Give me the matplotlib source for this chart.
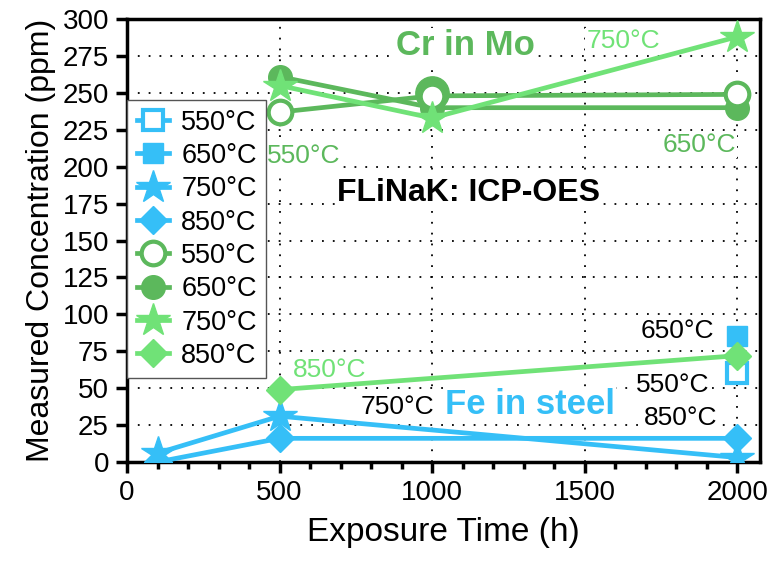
import numpy as np
import matplotlib.pyplot as plt
from matplotlib.ticker import MultipleLocator

plt.rcParams['font.family'] = ['Liberation Sans', 'DejaVu Sans']

# Fe in steel (blue)
fe550_x = [2000]
fe550_y = [60]
fe650_x = [2000]
fe650_y = [85]
fe750_x = [100, 500, 2000]
fe750_y = [6, 31, 3]
fe850_x = [100, 500, 2000]
fe850_y = [0, 16, 16]

# Cr in Mo (green)
cr550_x = [500, 1000, 2000]
cr550_y = [237, 248, 249]
cr650_x = [500, 1000, 2000]
cr650_y = [261, 240, 240]
cr750_x = [500, 1000, 2000]
cr750_y = [255, 233, 288]
cr850_x = [500, 2000]
cr850_y = [49, 72]
# large filled point at 1000 h
crbig_x = [1000]
crbig_y = [250]

temps = ['550°C', '650°C', '750°C', '850°C']

blue = '#35BFF7'
dgreen = '#5CB85C'
lgreen = '#70E277'

fig = plt.figure(figsize=(7.7, 5.62), dpi=100)
ax = fig.add_axes([0.165, 0.178, 0.822, 0.788])

lw = 3.4
ax.plot(fe550_x, fe550_y, color=blue, lw=lw, marker='s', ms=15, mfc='white', mew=3, label=temps[0], zorder=5)
ax.plot(fe650_x, fe650_y, color=blue, lw=lw, marker='s', ms=15, label=temps[1], zorder=5)
ax.plot(fe750_x, fe750_y, color=blue, lw=lw, marker='*', ms=25, label=temps[2], zorder=5)
ax.plot(fe850_x, fe850_y, color=blue, lw=lw, marker='D', ms=14, label=temps[3], zorder=5)

ax.plot(crbig_x, crbig_y, color=dgreen, lw=0, marker='o', ms=24, zorder=4)
ax.plot(cr550_x, cr550_y, color=dgreen, lw=lw, marker='o', ms=17, mfc='white', mew=3, label=temps[0], zorder=5)
ax.plot(cr650_x, cr650_y, color=dgreen, lw=lw, marker='o', ms=17, label=temps[1], zorder=4)
ax.plot(cr750_x, cr750_y, color=lgreen, lw=lw, marker='*', ms=25, label=temps[2], zorder=6)
ax.plot(cr850_x, cr850_y, color=lgreen, lw=lw, marker='D', ms=14, label=temps[3], zorder=5)

ax.set_xlim(0, 2075)
ax.set_ylim(0, 300)
ax.xaxis.set_major_locator(MultipleLocator(500))
ax.xaxis.set_minor_locator(MultipleLocator(100))
ax.yaxis.set_major_locator(MultipleLocator(25))
ax.grid(True, which='major', color='black', linestyle=(0, (1, 5)), lw=1.3)
ax.set_axisbelow(True)

for s in ax.spines.values():
    s.set_linewidth(2.5)
ax.tick_params(which='major', direction='out', length=8, width=2.5, labelsize=20, pad=5)
ax.tick_params(which='minor', direction='out', length=5, width=2.5)

ax.set_xlabel('Exposure Time (h)', fontsize=24, labelpad=8)
ax.set_ylabel('Measured Concentration (ppm)', fontsize=23, labelpad=5)

wb = dict(facecolor='white', edgecolor='none', pad=1)
ax.text(1110, 282, 'Cr in Mo', color=dgreen, fontsize=25, fontweight='bold', ha='center', va='center', bbox=wb, zorder=3)
ax.text(1627, 285, '750°C', color=lgreen, fontsize=19, ha='center', va='center', bbox=wb, zorder=3)
ax.text(580, 207, '550°C', color=dgreen, fontsize=19, ha='center', va='center', bbox=wb, zorder=3)
ax.text(1875, 215, '650°C', color=dgreen, fontsize=19, ha='center', va='center', bbox=wb, zorder=3)
ax.text(1120, 182, 'FLiNaK: ICP-OES', color='black', fontsize=23, fontweight='bold', ha='center', va='center', bbox=wb, zorder=3)
ax.text(665, 62, '850°C', color=lgreen, fontsize=19, ha='center', va='center', bbox=wb, zorder=3)
ax.text(885, 37, '750°C', color='black', fontsize=19, ha='center', va='center', bbox=wb, zorder=3)
ax.text(1320, 39, 'Fe in steel', color=blue, fontsize=25, fontweight='bold', ha='center', va='center', bbox=wb, zorder=3)
ax.text(1805, 89, '650°C', color='black', fontsize=19, ha='center', va='center', bbox=wb, zorder=3)
ax.text(1790, 52, '550°C', color='black', fontsize=19, ha='center', va='center', bbox=wb, zorder=3)
ax.text(1815, 30, '850°C', color='black', fontsize=19, ha='center', va='center', bbox=wb, zorder=3)

leg = ax.legend(loc='upper left', bbox_to_anchor=(0.0, 0.817), fontsize=19.5, frameon=True,
                fancybox=False, edgecolor='#555555', framealpha=1, handlelength=1.2,
                handletextpad=0.45, labelspacing=0.27, borderpad=0.35, borderaxespad=0,
                markerscale=1.0)
leg.get_frame().set_linewidth(1.0)
leg.set_zorder(10)

fig.savefig('out.png', dpi=100)
